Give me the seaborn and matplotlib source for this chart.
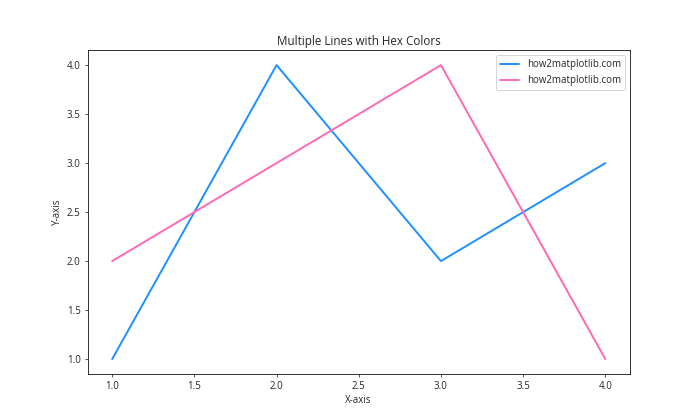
import matplotlib
matplotlib.use("Agg")
import matplotlib.pyplot as plt
import seaborn as sns
import pandas as pd

x = [1, 2, 3, 4]
y1 = [1, 4, 2, 3]
y2 = [2, 3, 4, 1]
labels = ["how2matplotlib.com", "how2matplotlib.com"]
colors = ["#1E90FF", "#FF69B4"]

sns.set_style("ticks")
plt.rcParams['font.family'] = ['Open Sans', 'DejaVu Sans']
plt.rcParams['font.size'] = 10

fig, ax = plt.subplots(figsize=(10, 6), dpi=70)
sns.lineplot(x=x, y=y1, color=colors[0], label=labels[0], linewidth=2, ax=ax)
sns.lineplot(x=x, y=y2, color=colors[1], label=labels[1], linewidth=2, ax=ax)
ax.set_title("Multiple Lines with Hex Colors", fontsize=12)
ax.set_xlabel("X-axis")
ax.set_ylabel("Y-axis")
ax.set_xticks([1.0, 1.5, 2.0, 2.5, 3.0, 3.5, 4.0])
ax.set_yticks([1.0, 1.5, 2.0, 2.5, 3.0, 3.5, 4.0])
ax.legend(loc="upper right", fontsize=10)
for s in ax.spines.values():
    s.set_visible(True)
    s.set_color("black")
fig.subplots_adjust(left=0.125, right=0.9, top=0.88, bottom=0.11)
fig.savefig("out.png", dpi=70)
